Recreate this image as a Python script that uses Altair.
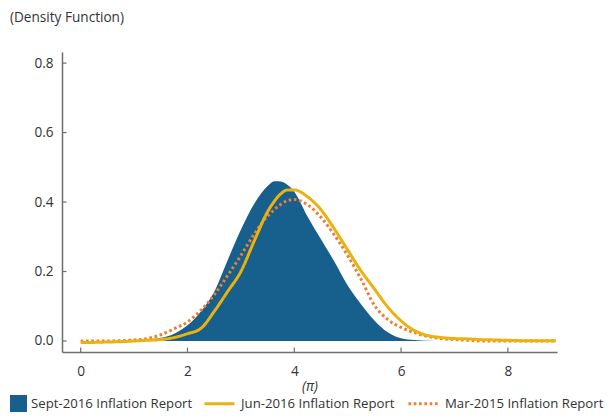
import altair as alt
import pandas as pd

# ---- data ----
x_vals = [0, 0.25, 0.5, 0.75, 1, 1.25, 1.5, 1.75, 2, 2.25, 2.5, 2.75, 3, 3.25, 3.5,
          3.625, 3.75, 3.875, 4,
          4.25, 4.5, 4.75, 5, 5.25, 5.5, 5.75, 6, 6.25, 6.5,
          6.75, 7, 7.25, 7.5, 7.75, 8, 8.25, 8.5, 8.75, 8.9]

sept_2016 = [0, 0, 0, 0.001, 0.002, 0.004, 0.009, 0.021, 0.045, 0.085, 0.142, 0.232, 0.320, 0.395, 0.446,
             0.460, 0.459, 0.449, 0.430,
             0.358, 0.293, 0.229, 0.160, 0.106, 0.059, 0.025, 0.008, 0.003, 0.001,
             0, 0, 0, 0, 0, 0, 0, 0, 0, 0]

jun_2016 = [-0.004, -0.004, -0.003, -0.002, 0.0, 0.002, 0.004, 0.010, 0.021, 0.036, 0.085, 0.142, 0.200, 0.288, 0.372,
            0.402, 0.424, 0.435, 0.435,
            0.415, 0.378, 0.323, 0.262, 0.202, 0.150, 0.098, 0.058, 0.030, 0.016,
            0.010, 0.007, 0.006, 0.004, 0.003, 0.002, 0.001, 0.001, 0.001, 0.001]

mar_2015 = [0.000, 0.000, 0.000, 0.001, 0.003, 0.007, 0.018, 0.035, 0.055, 0.088, 0.133, 0.188, 0.246, 0.308, 0.360,
            0.378, 0.394, 0.404, 0.407,
            0.392, 0.356, 0.305, 0.246, 0.178, 0.103, 0.062, 0.039, 0.024, 0.013,
            0.007, 0.004, 0.002, 0.0, 0, 0, 0, 0, 0, 0]

x_ticks = [0, 2, 4, 6, 8]
y_ticks = [0.0, 0.2, 0.4, 0.6, 0.8]

SEPT = "Sept-2016 Inflation Report"
JUN = "Jun-2016 Inflation Report"
MAR = "Mar-2015 Inflation Report"

BLUE = "#175f8d"
YELLOW = "#ebb10d"
ORANGE = "#ed7d31"
AXIS = "#6e6e6e"
TEXT = "#333333"
FONT = "Open Sans"
FS = 13.6
LFS = 13.2

area_df = pd.DataFrame({"x": x_vals, "y": sept_2016, "series": SEPT})
mar_df = pd.DataFrame({"x": x_vals, "y": mar_2015, "series": MAR})
jun_df = pd.DataFrame({"x": x_vals, "y": jun_2016, "series": JUN})
xt_df = pd.DataFrame({"v": x_ticks})
yt_df = pd.DataFrame({"v": y_ticks})

xscale = alt.Scale(domain=[-0.35, 8.92], nice=False, zero=False)
yscale = alt.Scale(domain=[-0.0317, 0.832], nice=False, zero=False)

x_axis = alt.Axis(values=x_ticks, format="d", tickSize=0, labelPadding=12,
                  title="(π)", titleFontStyle="italic", titleFontWeight="normal",
                  titlePadding=2, grid=False)
y_axis = alt.Axis(values=y_ticks, format=".1f", tickSize=0, labelPadding=9,
                  title=None, grid=False)

X = alt.X("x:Q", scale=xscale, axis=x_axis)
Y = alt.Y("y:Q", scale=yscale, axis=y_axis)

stroke_scale = alt.Scale(domain=[JUN, MAR], range=[YELLOW, ORANGE])
dash_scale = alt.Scale(domain=[JUN, MAR], range=[[1, 0], [2.6, 2.7]])
line_legend = alt.Legend(orient="none", legendX=141, legendY=335, direction="horizontal",
                         title=None, symbolType="stroke", symbolSize=900, symbolStrokeWidth=3,
                         labelOffset=5, columnPadding=7, labelLimit=400, padding=0,
                         labelFontSize=LFS, labelFont=FONT, labelColor=TEXT)

area = alt.Chart(area_df).mark_area(interpolate="monotone", opacity=1).encode(
    x=X, y=Y,
    fill=alt.Fill("series:N", scale=alt.Scale(domain=[SEPT], range=[BLUE]),
                  legend=alt.Legend(orient="none", legendX=-52, legendY=343, direction="horizontal",
                                    title=None, symbolType="square", symbolSize=289,
                                    symbolOpacity=1, symbolStrokeWidth=0,
                                    labelOffset=4, labelLimit=400, padding=0,
                                    labelFontSize=LFS, labelFont=FONT, labelColor=TEXT)),
)

mar_line = alt.Chart(mar_df).mark_line(interpolate="monotone", strokeWidth=3).encode(
    x=X, y=Y,
    stroke=alt.Stroke("series:N", scale=stroke_scale, legend=line_legend),
    strokeDash=alt.StrokeDash("series:N", scale=dash_scale, legend=line_legend),
)
jun_line = alt.Chart(jun_df).mark_line(interpolate="monotone", strokeWidth=3).encode(
    x=X, y=Y,
    stroke=alt.Stroke("series:N", scale=stroke_scale, legend=line_legend),
    strokeDash=alt.StrokeDash("series:N", scale=dash_scale, legend=line_legend),
)

xticks_layer = alt.Chart(xt_df).mark_rule(color=AXIS, strokeWidth=1.2).encode(
    x=alt.X("v:Q", scale=xscale), y=alt.value(300), y2=alt.value(295.5))
yticks_layer = alt.Chart(yt_df).mark_rule(color=AXIS, strokeWidth=1.2).encode(
    y=alt.Y("v:Q", scale=yscale), x=alt.value(0), x2=alt.value(4.5))

chart = alt.layer(area, mar_line, jun_line, xticks_layer, yticks_layer).properties(
    width=495, height=300,
    autosize=alt.AutoSizeParams(type="none"),
    padding={"left": 54, "top": 44, "right": 50, "bottom": 60},
    title=alt.TitleParams("(Density Function)", anchor="start", frame="group", dx=-52,
                          offset=16, baseline="alphabetic", fontSize=FS, fontWeight="normal",
                          font=FONT, color=TEXT),
).configure(font=FONT).configure_view(stroke=None).configure_axis(
    domainColor=AXIS, domainWidth=1.5, labelFont=FONT, labelFontSize=FS, labelColor=TEXT,
    titleFont=FONT, titleFontSize=FS, titleColor=TEXT,
)

chart.save("out.html", embed_options={"renderer": "svg", "actions": False})
